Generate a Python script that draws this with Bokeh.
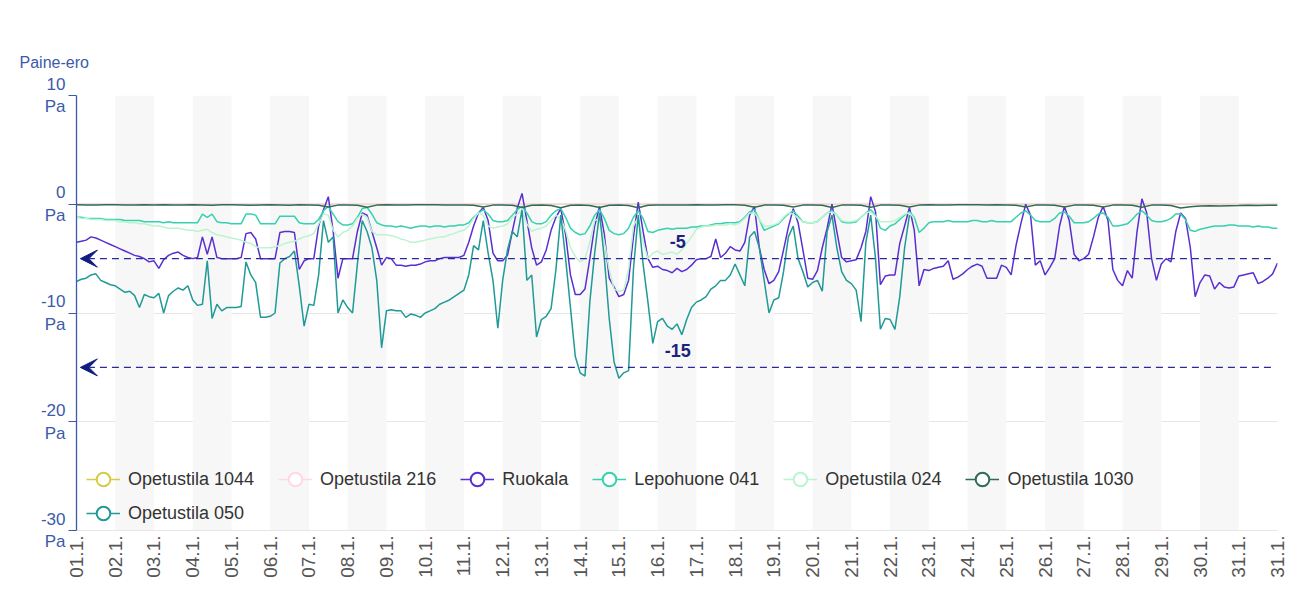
import math
from bokeh.plotting import figure
from bokeh.models import (FixedTicker, Label, Legend, LegendItem, BoxAnnotation,
                          Arrow, VeeHead)
from bokeh.embed import file_html
from bokeh.resources import INLINE

# ---------------- data ----------------
day_labels = ["01.1.", "02.1.", "03.1.", "04.1.", "05.1.", "06.1.", "07.1.", "08.1.",
              "09.1.", "10.1.", "11.1.", "12.1.", "13.1.", "14.1.", "15.1.", "16.1.",
              "17.1.", "18.1.", "19.1.", "20.1.", "21.1.", "22.1.", "23.1.", "24.1.",
              "25.1.", "26.1.", "27.1.", "28.1.", "29.1.", "30.1.", "31.1.", "31.1."]
y_ticks = [10, 0, -10, -20, -30]
y_unit = "Pa"
ref_levels = [-5, -15]

# samples per day of each series
per_day_fine = 8      # 3 h step
per_day_mid = 4       # 6 h step
per_day_daily = 1

opetustila_1044 = [0.05, 0.05, 0.04, 0.05, 0.05, 0.05, 0.04, 0.05, 0.05, 0.05, 0.05, 0.04,
                   0.05, 0.05, 0.05, 0.05, 0.05, 0.04, 0.05, 0.05, 0.05, 0.05, 0.05, 0.05,
                   0.04, 0.05, 0.05, 0.05, 0.05, 0.04, 0.05, 0.05]
opetustila_216 = [0.05, 0.05, 0.04, 0.05, 0.05, 0.05, 0.04, 0.05, 0.05, 0.05, 0.05, 0.04,
                  0.05, 0.05, 0.05, 0.05, 0.05, 0.04, 0.05, 0.05, 0.05, 0.05, 0.05, 0.05,
                  0.04, 0.05, 0.05, 0.05, 0.05, 0.04, 0.05, 0.05]

ruokala = [
    -3.5, -3.4, -3.3, -3.0, -3.1, -3.3, -3.5, -3.7,
    -3.9, -4.1, -4.3, -4.5, -4.7, -4.8, -5.0, -5.3,
    -5.2, -5.9, -5.1, -4.7, -4.5, -4.4, -4.7, -4.9,
    -5.0, -4.9, -3.0, -4.6, -3.0, -4.9, -5.0, -5.0,
    -5.0, -5.0, -4.9, -2.7, -2.6, -3.2, -5.0, -5.0,
    -5.0, -5.0, -2.6, -2.5, -2.5, -2.6, -6.0, -5.2,
    -5.0, -5.0, -2.0, -0.5, 0.7, -2.5, -6.8, -5.0,
    -5.0, -5.0, -2.5, -0.8, -1.0, -2.5, -4.0, -5.6,
    -4.9, -5.0, -5.6, -5.6, -5.7, -5.6, -5.6, -5.5,
    -5.3, -5.2, -5.2, -5.0, -4.9, -4.9, -4.9, -4.9,
    -4.7, -3.5, -2.0, -0.8, -0.3, -1.5, -4.5, -5.2,
    -5.2, -4.7, -2.5, -0.4, 1.0, -1.5, -4.0, -5.6,
    -5.3, -4.2, -2.4, -1.2, -0.4, -2.8, -6.5, -8.3,
    -8.3, -7.8, -5.0, -2.0, -0.2, -2.8, -6.8, -7.6,
    -8.5, -8.3, -7.0, -3.0, 0.2, -2.5, -5.0, -5.8,
    -5.7, -6.0, -6.1, -6.3, -5.9, -6.2, -6.0, -5.6,
    -5.1, -5.0, -5.0, -4.8, -3.2, -4.9, -4.5, -3.9,
    -4.2, -4.3, -3.5, -1.0, -0.2, -4.0, -6.0, -7.3,
    -7.0, -6.2, -4.2, -2.1, -0.4, -1.7, -4.2, -6.8,
    -6.9, -6.1, -4.0, -2.2, 0.0, -2.5, -4.9, -5.3,
    -5.2, -5.1, -4.0, -2.5, 0.7, -0.7, -7.4, -6.6,
    -6.5, -6.5, -3.6, -2.0, -0.3, -2.4, -7.5, -6.0,
    -6.1, -5.9, -5.8, -5.7, -5.2, -6.9, -6.7, -6.4,
    -6.0, -5.7, -5.5, -5.7, -6.8, -6.8, -6.8, -5.6,
    -5.8, -6.5, -3.8, -1.8, 0.0, -1.0, -5.6, -5.2,
    -6.5, -5.8, -5.0, -2.0, -0.2, -1.5, -4.6, -5.2,
    -5.0, -4.6, -3.0, -1.2, -0.2, -1.5, -6.0, -7.0,
    -7.5, -6.1, -6.8, -2.5, 0.5, -0.8, -5.0, -7.0,
    -5.5, -5.0, -5.3, -2.5, -0.8, -1.3, -4.0, -8.5,
    -7.2, -6.5, -6.6, -7.8, -7.2, -7.6, -7.7, -7.6,
    -6.6, -6.5, -6.4, -6.3, -7.3, -7.1, -6.8, -6.4,
    -5.4]

lepohuone_041 = [
    -1.2, -1.2, -1.3, -1.3, -1.3, -1.3, -1.4, -1.4,
    -1.4, -1.4, -1.5, -1.5, -1.5, -1.5, -1.6, -1.6,
    -1.6, -1.6, -1.7, -1.6, -1.7, -1.7, -1.7, -1.7,
    -1.7, -1.7, -0.9, -1.2, -0.9, -1.6, -1.7, -1.7,
    -1.8, -1.8, -1.8, -0.9, -0.9, -1.0, -1.8, -1.8,
    -1.8, -1.8, -1.1, -1.1, -1.1, -1.1, -1.7, -1.8,
    -1.8, -1.8, -1.4, -0.6, -0.2, -0.9, -1.6, -1.9,
    -1.9, -1.8, -1.2, -0.4, -0.3, -0.9, -1.7, -1.9,
    -2.0, -2.0, -2.1, -2.0, -2.1, -2.2, -2.1, -2.0,
    -2.0, -2.1, -2.0, -2.0, -2.1, -2.0, -2.0, -1.9,
    -1.9, -1.7, -1.2, -0.8, -0.5, -0.9, -1.5, -1.6,
    -1.6, -1.5, -1.0, -0.5, -0.2, -0.8, -1.6, -1.8,
    -1.8, -1.6, -1.0, -0.6, -0.4, -1.2, -2.2, -2.6,
    -2.8, -2.7, -2.0, -1.0, -0.5, -1.3, -2.4, -2.7,
    -2.8, -2.7, -2.2, -1.2, -0.6, -1.3, -2.5, -2.6,
    -2.4, -2.3, -2.2, -2.3, -2.2, -2.2, -2.2, -2.1,
    -2.1, -2.0, -2.0, -1.9, -1.8, -1.8, -1.7, -1.7,
    -1.7, -1.6, -1.2, -0.7, -0.5, -1.4, -2.4, -2.2,
    -2.0, -1.8, -1.3, -0.9, -0.6, -1.1, -1.6, -1.7,
    -1.7, -1.6, -1.2, -0.8, -0.6, -1.0, -1.6, -1.7,
    -1.7, -1.6, -1.2, -0.8, -0.5, -1.0, -2.2, -2.4,
    -2.0, -1.8, -1.4, -1.0, -0.7, -1.2, -2.6, -2.2,
    -1.7, -1.6, -1.6, -1.6, -1.5, -1.6, -1.6, -1.6,
    -1.6, -1.5, -1.5, -1.6, -1.6, -1.5, -1.6, -1.6,
    -1.6, -1.6, -1.2, -0.8, -0.6, -1.0, -1.5, -1.6,
    -1.6, -1.6, -1.3, -0.8, -0.7, -1.1, -1.7, -1.7,
    -1.7, -1.6, -1.3, -0.9, -0.8, -1.2, -2.0, -2.0,
    -1.9, -1.8, -1.4, -0.9, -0.6, -1.0, -1.5, -1.6,
    -1.6, -1.5, -1.3, -0.9, -0.9, -1.4, -2.4, -2.5,
    -2.3, -2.2, -2.1, -2.0, -2.0, -2.0, -1.9, -1.9,
    -2.0, -2.0, -2.0, -2.1, -2.0, -2.1, -2.1, -2.2,
    -2.2]

opetustila_024 = [
    -1.2, -1.3, -1.3, -1.4, -1.4, -1.4, -1.5, -1.5,
    -1.5, -1.6, -1.6, -1.7, -1.7, -1.8, -1.8, -1.9,
    -2.0, -2.0, -2.1, -2.2, -2.2, -2.2, -2.3, -2.4,
    -2.4, -2.5, -2.4, -2.3, -2.6, -2.8, -2.9, -3.0,
    -3.1, -3.2, -3.3, -3.5, -3.6, -3.9, -4.0, -4.0,
    -4.0, -3.9, -3.8, -3.6, -3.5, -3.4, -3.2, -3.0,
    -2.9, -2.7, -1.8, -0.9, -1.0, -2.4, -3.0, -2.6,
    -2.4, -2.0, -1.3, -0.9, -1.2, -2.5, -2.8, -2.8,
    -2.8, -2.9, -3.0, -3.2, -3.3, -3.5, -3.5, -3.4,
    -3.3, -3.2, -3.1, -3.0, -3.0, -2.8, -2.7, -2.5,
    -2.4, -2.0, -1.3, -0.8, -1.0, -2.0, -2.2, -2.1,
    -2.0, -1.8, -1.2, -0.9, -0.6, -1.8, -2.5, -2.3,
    -2.2, -2.0, -1.5, -1.0, -1.3, -2.4, -4.0, -4.8,
    -5.3, -5.0, -3.5, -1.5, -1.3, -3.5, -6.0, -7.8,
    -8.0, -7.9, -6.0, -2.0, -1.2, -3.5, -5.0, -4.5,
    -4.3, -4.6, -4.5, -4.4, -4.6, -4.2, -3.6, -3.0,
    -2.3, -2.1, -2.0, -2.0, -1.9, -1.9, -1.9, -1.8,
    -1.9, -1.7, -1.3, -0.8, -0.8, -1.4, -2.0, -2.0,
    -1.9, -1.7, -1.2, -0.8, -0.9, -1.3, -1.6, -1.7,
    -1.7, -1.6, -1.2, -0.8, -0.7, -1.0, -1.5, -1.6,
    -1.6, -1.5, -1.2, -0.8, -0.7, -1.1, -1.6, -1.6,
    -1.6, -1.5, -1.2, -0.9, -0.8, -1.3]

opetustila_1030 = [
    -0.05, -0.06, -0.08, -0.05, -0.05, -0.06, -0.07, -0.05,
    -0.06, -0.05, -0.08, -0.06, -0.05, -0.06, -0.10, -0.05,
    -0.05, -0.06, -0.10, -0.06, -0.05, -0.06, -0.09, -0.05,
    -0.06, -0.10, -0.25, -0.08, -0.06, -0.10, -0.28, -0.08,
    -0.05, -0.06, -0.08, -0.05, -0.05, -0.05, -0.07, -0.06,
    -0.06, -0.10, -0.26, -0.08, -0.06, -0.10, -0.30, -0.09,
    -0.08, -0.12, -0.32, -0.10, -0.08, -0.12, -0.30, -0.10,
    -0.08, -0.12, -0.32, -0.10, -0.06, -0.06, -0.08, -0.06,
    -0.05, -0.06, -0.07, -0.05, -0.05, -0.10, -0.28, -0.08,
    -0.06, -0.10, -0.26, -0.08, -0.06, -0.10, -0.30, -0.08,
    -0.06, -0.10, -0.28, -0.08, -0.06, -0.10, -0.26, -0.08,
    -0.05, -0.06, -0.08, -0.05, -0.05, -0.05, -0.07, -0.05,
    -0.06, -0.10, -0.26, -0.08, -0.06, -0.10, -0.25, -0.08,
    -0.06, -0.10, -0.26, -0.08, -0.06, -0.10, -0.28, -0.08,
    -0.06, -0.12, -0.35, -0.22, -0.16, -0.14, -0.15, -0.13,
    -0.12, -0.10, -0.12, -0.10, -0.10]

opetustila_050 = [
    -7.1, -6.9, -6.8, -6.5, -6.4, -7.0, -7.2, -7.4,
    -7.5, -7.8, -8.1, -8.0, -8.4, -9.5, -8.3, -8.5,
    -8.6, -8.2, -10.0, -8.4, -8.0, -7.7, -7.9, -7.5,
    -8.8, -9.3, -9.2, -5.2, -10.5, -9.2, -9.8, -9.5,
    -9.5, -9.5, -9.4, -5.3, -6.5, -7.2, -10.4, -10.4,
    -10.3, -10.0, -5.4, -5.0, -4.8, -4.3, -7.5, -11.2,
    -9.2, -9.3, -6.5, -1.5, -3.5, -3.0, -10.0, -8.8,
    -9.5, -10.0, -5.5, -1.5, -2.5, -4.0, -7.0, -13.2,
    -9.8, -9.7, -9.8, -9.8, -10.4, -10.1, -10.2, -10.4,
    -10.0, -9.8, -9.6, -9.2, -9.0, -8.8, -8.5, -8.2,
    -7.9, -6.5, -3.8, -4.2, -1.5, -4.5, -7.0, -11.4,
    -7.0, -4.2, -2.5, -3.0, -0.5, -7.0, -6.5, -12.2,
    -10.6, -10.3, -9.6, -6.0, -1.0, -5.0, -9.5, -14.0,
    -15.5, -15.8, -9.0, -4.5, -0.8, -5.0, -10.5, -14.5,
    -16.0, -15.5, -15.3, -6.0, -1.0, -5.5, -9.0, -12.8,
    -10.8, -10.5, -11.2, -11.5, -11.0, -12.0, -10.6, -9.5,
    -9.0, -8.8, -8.5, -7.8, -7.5, -7.0, -7.0, -6.5,
    -5.5, -6.5, -7.5, -3.0, -2.5, -4.0, -7.0, -10.0,
    -8.8, -8.6, -6.2, -3.0, -2.0, -5.0, -6.2, -7.6,
    -7.2, -7.0, -8.0, -2.5, -1.0, -4.0, -6.2, -7.0,
    -7.3, -7.9, -10.8, -3.5, -1.0, -5.0, -11.5, -10.5,
    -10.6, -11.5, -8.5, -4.0, -1.0]

series = [
    ("Opetustila 1044", opetustila_1044, per_day_daily, "#d4cd45"),
    ("Opetustila 216", opetustila_216, per_day_daily, "#ffd9e2"),
    ("Ruokala", ruokala, per_day_fine, "#5a2fcf"),
    ("Lepohuone 041", lepohuone_041, per_day_fine, "#36d1ad"),
    ("Opetustila 024", opetustila_024, per_day_fine, "#baf5cf"),
    ("Opetustila 1030", opetustila_1030, per_day_mid, "#2f6b5b"),
    ("Opetustila 050", opetustila_050, per_day_fine, "#1f9a96"),
]

# ---------------- styling ----------------
FONT = "Liberation Sans"
BLUE = "#3b5ba9"
NAVY_LINE = "#2a2a9c"
NAVY = "#101c80"

p = figure(frame_width=1201, frame_height=435,
           x_range=(0, len(day_labels) - 1), y_range=(min(y_ticks), max(y_ticks)),
           min_border_left=76, min_border_top=95, min_border_right=23,
           min_border_bottom=59, output_backend="svg", toolbar_location=None,
           background_fill_color="white", border_fill_color="white",
           outline_line_color=None)

p.title.text = "Paine-ero"
p.title.align = "left"
p.title.offset = -57
p.title.standoff = 50
p.title.text_font = FONT
p.title.text_font_size = "16px"
p.title.text_font_style = "normal"
p.title.text_color = BLUE

# alternating day bands
for i in range(1, len(day_labels) - 1, 2):
    p.add_layout(BoxAnnotation(left=i, right=i + 1, fill_color="#f7f7f7",
                               fill_alpha=1.0, line_color=None, level="underlay"))

p.xgrid.visible = False
p.ygrid.ticker = FixedTicker(ticks=y_ticks)
p.ygrid.grid_line_color = "#e6e6e6"
p.ygrid.level = "underlay"

# y axis: two-line tick labels "value / Pa"
p.yaxis.ticker = FixedTicker(ticks=y_ticks)
p.yaxis.major_label_overrides = {v: f"{v}\n{y_unit}" for v in y_ticks}
p.yaxis.major_label_text_font = FONT
p.yaxis.major_label_text_font_size = "17px"
p.yaxis.major_label_text_color = BLUE
p.yaxis.major_label_standoff = 3
p.yaxis.axis_line_color = BLUE
p.yaxis.axis_line_width = 1.3
p.yaxis.major_tick_line_color = BLUE
p.yaxis.major_tick_out = 8
p.yaxis.major_tick_in = 0
p.yaxis.minor_tick_line_color = None

# x axis
p.xaxis.ticker = FixedTicker(ticks=list(range(len(day_labels))))
p.xaxis.major_label_overrides = {i: lab for i, lab in enumerate(day_labels)}
p.xaxis.major_label_orientation = math.pi / 2
p.xaxis.major_label_text_font = FONT
p.xaxis.major_label_text_font_size = "19px"
p.xaxis.major_label_text_color = "#555555"
p.xaxis.major_label_standoff = -1
p.xaxis.axis_line_color = "#e6e6e6"
p.xaxis.major_tick_line_color = None
p.xaxis.minor_tick_line_color = None

# series
items = []
for name, vals, per_day, color in series:
    xs = [i / per_day for i in range(len(vals))]
    r = p.line(xs, vals, line_color=color, line_width=1.5)
    # marker renderer only used for the legend symbol (size 0 on the plot)
    m = p.scatter(xs, vals, marker="circle", size=0, fill_color="white",
                  line_color=color, line_width=2)
    items.append(LegendItem(label=name, renderers=[r, m]))

# reference lines with arrows
for lvl in ref_levels:
    p.add_layout(Arrow(end=VeeHead(size=17, fill_color=NAVY, line_color=NAVY),
                       x_start=30.83, y_start=lvl, x_end=0.1, y_end=lvl,
                       line_color=NAVY_LINE, line_dash="7 5", line_width=1.2))
    p.add_layout(Label(x=15.52, y=lvl, text=str(lvl), text_align="center",
                       text_baseline="middle", y_offset=17, text_font=FONT,
                       text_font_size="18px", text_font_style="bold",
                       text_color="#1a237e"))

def make_legend(its, loc):
    lg = Legend(items=its, location=loc, orientation="horizontal",
                label_text_font=FONT, label_text_font_size="18px",
                label_text_color="#333333", glyph_width=34, glyph_height=34,
                label_standoff=8, spacing=24, padding=0, margin=0,
                border_line_color=None, background_fill_alpha=0)
    return lg

p.add_layout(make_legend(items[:6], (10, 34)))
p.add_layout(make_legend(items[6:], (10, 0)))

open("out.html", "w").write(file_html(p, INLINE))
